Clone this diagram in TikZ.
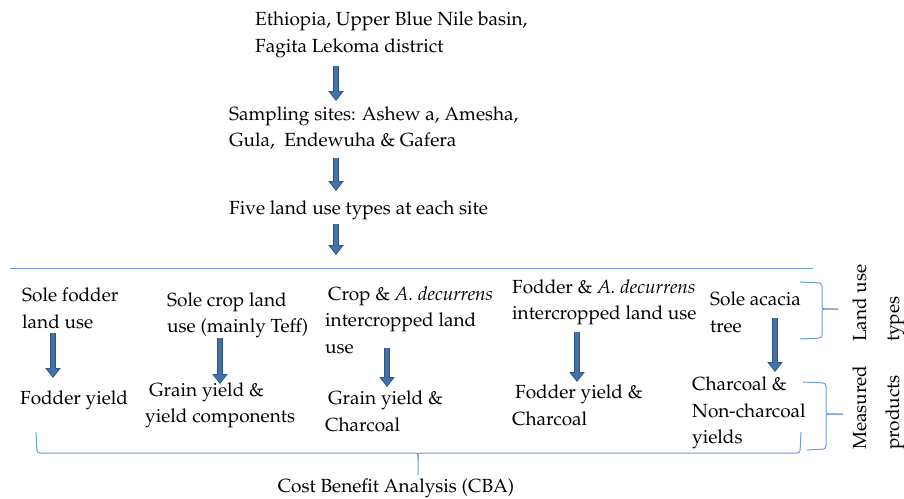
\documentclass[tikz,border=0pt]{standalone}
\usepackage[T1]{fontenc}
\usepackage{mathpazo}
\usetikzlibrary{arrows.meta}
\definecolor{flowBlue}{HTML}{4472A8}
\definecolor{flowEdge}{HTML}{2C5482}
\definecolor{braceBlue}{HTML}{6C9BD6}
\tikzset{
  flow/.style={-{Triangle[width=11.5pt,length=7.6pt,line width=0pt]}, line width=4.2pt, flowBlue, shorten >=1.5pt,
    preaction={draw=flowEdge, -{Triangle[width=15.5pt,length=10pt,line width=0pt]}, line width=6.6pt, shorten >=0pt}},
  rule/.style={line width=1pt, braceBlue},
  brc/.style={line width=1pt, braceBlue, rounded corners=3pt},
  txt/.style={font=\fontsize{19}{26.5}\selectfont, align=left, inner sep=0pt, anchor=west},
  side/.style={font=\fontsize{19}{33}\selectfont, align=left, inner sep=0pt, anchor=west, rotate=90},
}

\begin{document}
\begin{tikzpicture}[x=1pt,y=-1pt]
  \useasboundingbox (0,0) rectangle (904,498);
  % study area and sites
  \node[txt] (eth)  at (255,35)  {Ethiopia, Upper Blue Nile basin,\\Fagita Lekoma district};
  \node[txt] (samp) at (229,128) {Sampling sites: Ashew a, Amesha,\\Gula,\ \ Endewuha \& Gafera};
  \node[txt] (five) at (229,210) {Five land use types at each site};
  \coordinate (a1t) at (336,66);  \coordinate (a1b) at (336,101);
  \coordinate (a2t) at (336,158); \coordinate (a2b) at (336,191);
  \coordinate (a3t) at (336,224); \coordinate (a3b) at (336,255);
  \draw[flow] (a1t) -- (a1b);
  \draw[flow] (a2t) -- (a2b);
  \draw[flow] (a3t) -- (a3b);
  \draw[rule] (10,268) -- (813,268);
  % land use types
  \node[txt] (lu1) at (22,308.5)  {Sole fodder\\land use};
  \node[txt] (lu2) at (167,315.5) {Sole crop land\\use (mainly Teff)};
  \node[txt] (lu3) at (325,320)   {\hspace{3pt}Crop \& \textit{A. decurrens}\\intercropped land\\use};
  \node[txt] (lu4) at (512,302.5) {Fodder \& \textit{A. decurrens}\\intercropped land use};
  \node[txt] (lu5) at (710,312.5) {Sole acacia\\tree};
  % measured products
  \node[txt] (mp1) at (20,400)    {Fodder yield};
  \node[txt] (mp2) at (145,405.5) {\hspace{4pt}Grain yield \&\\yield components};
  \node[txt] (mp3) at (325,411.5) {\hspace{3pt}Grain yield \&\\Charcoal};
  \node[txt] (mp4) at (512,405.5) {\hspace{3pt}Fodder yield \&\\Charcoal};
  \node[txt] (mp5) at (692,413)   {Charcoal \&\\Non-charcoal\\yields};
  \coordinate (b1t) at (53,333);  \coordinate (b1b) at (53,378);
  \coordinate (b2t) at (220,338); \coordinate (b2b) at (220,384);
  \coordinate (b3t) at (387,348); \coordinate (b3b) at (387,387);
  \coordinate (b4t) at (577,332); \coordinate (b4b) at (577,382);
  \coordinate (b5t) at (775,318); \coordinate (b5b) at (775,372);
  \draw[flow] (b1t) -- (b1b);
  \draw[flow] (b2t) -- (b2b);
  \draw[flow] (b3t) -- (b3b);
  \draw[flow] (b4t) -- (b4b);
  \draw[flow] (b5t) -- (b5b);
  % braces
  \draw[brc] (800,282) -- (822,283) -- (822,304) .. controls (822,309) .. (838,309);
  \draw[brc] (800,339) -- (822,338) -- (822,314) .. controls (822,309) .. (838,309);
  \draw[brc] (803,382) -- (826,383) -- (826,409) .. controls (826,414) .. (843,414);
  \draw[brc] (807,450) -- (826,449) -- (826,419) .. controls (826,414) .. (843,414);
  \draw[brc] (36,432) -- (37,453) -- (412,453) .. controls (418,453) .. (418,460) -- (418,475);
  \draw[brc] (801,432) -- (800,453) -- (424,453) .. controls (418,453) .. (418,460);
  \node[side] (lut) at (878.5,342) {Land use\\types};
  \node[side] (mpr) at (878.5,450) {Measured\\products};
  \node[txt, anchor=center] (cba) at (396,488) {Cost Benefit Analysis (CBA)};
\end{tikzpicture}
\end{document}
